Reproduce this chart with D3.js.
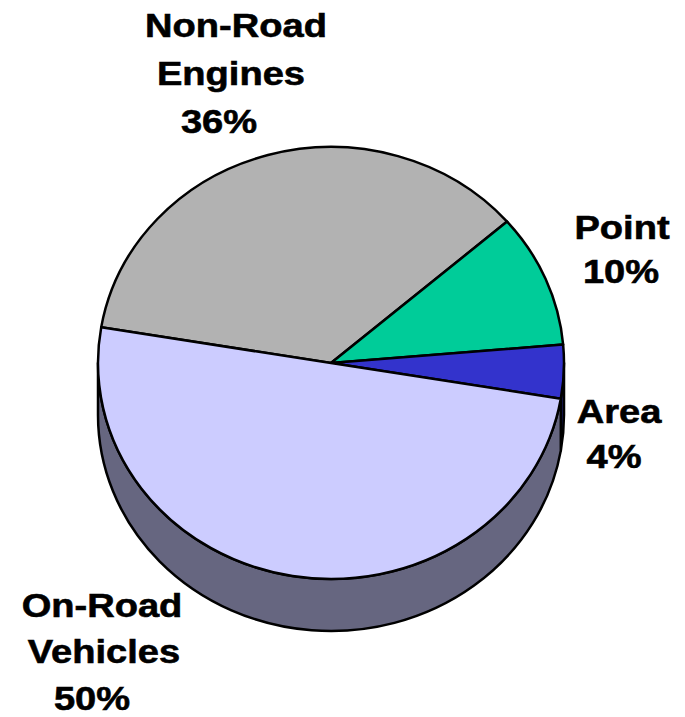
<!DOCTYPE html>
<html>
<head>
<meta charset="utf-8">
<script src="https://cdn.jsdelivr.net/npm/d3@7"></script>
<style>
  html, body { margin: 0; padding: 0; background: #ffffff; }
  svg { display: block; }
  text { font-family: "Liberation Sans", Arial, sans-serif; font-weight: bold; fill: #000; }
</style>
</head>
<body>
<svg id="chart" width="685" height="717"></svg>
<script>
// ---- data ----
const categories = ["Non-Road Engines", "Point", "Area", "On-Road Vehicles"];
const values = [36, 10, 4, 50];
const labelLines = [["Non-Road", "Engines", "36%"], ["Point", "10%"], ["Area", "4%"], ["On-Road", "Vehicles", "50%"]];
const topColors = ["#B2B2B2", "#00CC99", "#3333CC", "#CCCCFF"];
const sideColors = ["#595959", "#00664C", "#1A1A66", "#666680"];

// ---- layout ----
const W = 685, H = 717;
const cx = 331, cy = 363, rx = 233, ry = 216, depth = 52;
const startDeg = -80.5;
// label layout: per line [centerX, baselineY]
const labelPos = [
  [[236, 37], [231, 85], [219, 133]],
  [[622, 239], [621, 283]],
  [[619, 423], [614, 468]],
  [[102, 617], [104, 663], [92, 710]]
];

const svg = d3.select("#chart");
const toRad = d => d * Math.PI / 180;

const pie = d3.pie().sort(null).value(d => d)
  .startAngle(toRad(startDeg)).endAngle(toRad(startDeg) + 2 * Math.PI);
const arcs = pie(values);

// angle (clockwise from top) -> point on ellipse
const px = a => cx + rx * Math.sin(a);
const py = a => cy - ry * Math.cos(a);

function topPath(a0, a1) {
  const large = (a1 - a0) > Math.PI ? 1 : 0;
  return `M${cx},${cy}L${px(a0)},${py(a0)}A${rx},${ry} 0 ${large} 1 ${px(a1)},${py(a1)}Z`;
}
function sidePath(s, e) {
  const large = (e - s) > Math.PI ? 1 : 0;
  return `M${px(s)},${py(s)}A${rx},${ry} 0 ${large} 1 ${px(e)},${py(e)}` +
         `L${px(e)},${py(e) + depth}A${rx},${ry} 0 ${large} 0 ${px(s)},${py(s) + depth}Z`;
}
// front visible range [pi/2, 3pi/2], intersect with slice, with 2pi shifts
function frontPieces(a0, a1) {
  const out = [];
  for (let k = -2; k <= 2; k++) {
    const f0 = Math.PI / 2 + k * 2 * Math.PI, f1 = 3 * Math.PI / 2 + k * 2 * Math.PI;
    const s = Math.max(a0, f0), e = Math.min(a1, f1);
    if (e > s + 1e-6) out.push([s, e]);
  }
  return out;
}

const gSide = svg.append("g");
arcs.forEach((d, i) => {
  frontPieces(d.startAngle, d.endAngle).forEach(([s, e]) => {
    gSide.append("path")
      .attr("d", sidePath(s, e))
      .attr("fill", sideColors[i])
      .attr("stroke", "#000")
      .attr("stroke-width", 2.5)
      .attr("stroke-linejoin", "round");
  });
});

const gTop = svg.append("g");
gTop.selectAll("path").data(arcs).join("path")
  .attr("d", d => topPath(d.startAngle, d.endAngle))
  .attr("fill", (d, i) => topColors[i])
  .attr("stroke", "#000")
  .attr("stroke-width", 2.5)
  .attr("stroke-linejoin", "round");

// labels
const gLab = svg.append("g");
labelLines.forEach((lines, i) => {
  lines.forEach((t, j) => {
    const [x, y] = labelPos[i][j];
    gLab.append("text")
      .attr("transform", `translate(${x},${y}) scale(1.12,1)`)
      .attr("text-anchor", "middle")
      .attr("font-size", 34)
      .attr("stroke", "#000")
      .attr("stroke-width", 0.6)
      .text(t);
  });
});
</script>
</body>
</html>
